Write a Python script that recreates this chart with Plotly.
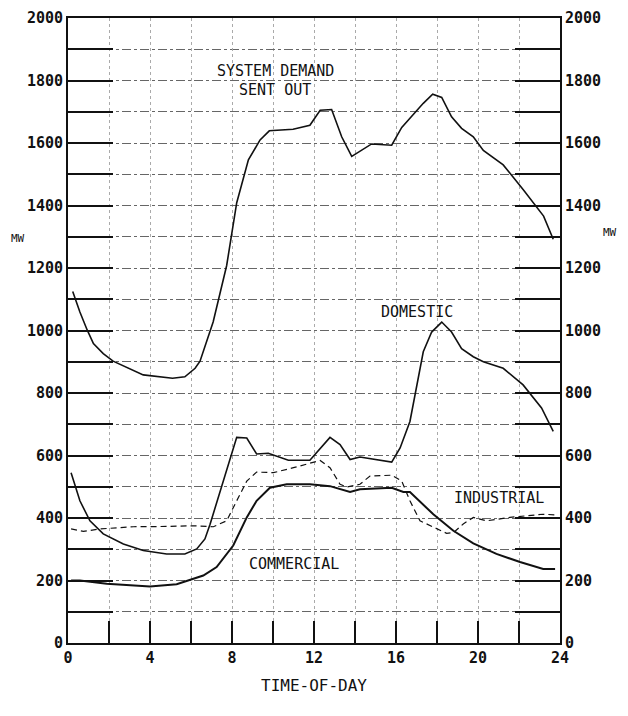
import plotly.graph_objects as go

# ---- data ----
sys_t = [0.23, 0.58, 0.94, 1.24, 1.72, 2.2, 3.67, 5.1, 5.7, 6.2, 6.44, 7.08, 7.74, 8.23, 8.8, 9.37, 9.82,
         10.98, 11.8, 12.3, 12.86, 13.35, 13.84, 14.81, 15.79, 16.28, 17.33, 17.79, 18.23, 18.71, 19.2,
         19.77, 20.26, 21.23, 22.2, 23.2, 23.67]
sys_mw = [1125, 1059, 1001, 958, 926, 902, 858, 847, 852, 879, 902, 1027, 1208, 1409, 1546, 1610, 1639,
          1644, 1657, 1705, 1707, 1620, 1557, 1597, 1593, 1650, 1727, 1756, 1746, 1684, 1647,
          1620, 1576, 1530, 1451, 1366, 1292]

dom_t = [0.15, 0.58, 1.07, 1.72, 2.7, 3.67, 4.81, 5.7, 6.28, 6.68, 6.93, 7.74, 8.23, 8.72, 9.2, 9.77,
         10.75, 11.8, 12.3, 12.78, 13.27, 13.76, 14.24, 15.79, 16.2, 16.68, 17.33, 17.74, 18.23, 18.71,
         19.2, 19.77, 20.26, 21.23, 22.2, 23.1, 23.67]
dom_mw = [545, 455, 391, 349, 317, 296, 285, 285, 301, 333, 380, 550, 658, 656, 605, 607,
          585, 585, 624, 658, 635, 587, 595, 579, 624, 709, 932, 995, 1027, 995,
          942, 916, 900, 879, 826, 752, 677]

ind_t = [0.15, 0.75, 1.56, 3.19, 4.81, 6.11, 7.09, 7.74, 8.23, 8.72, 9.2, 10.02, 11.0, 11.8, 12.3, 12.78,
         13.27, 13.6, 14.24, 14.73, 15.79, 16.28, 16.68, 17.17, 17.82, 18.47, 18.8, 19.28, 19.77, 20.42,
         21.56, 22.54, 23.18, 23.76]
ind_mw = [365, 357, 365, 372, 373, 375, 372, 391, 455, 518, 547, 545, 561, 576, 584, 561,
          508, 499, 508, 534, 537, 518, 455, 391, 370, 351, 353, 381, 402, 391,
          402, 407, 412, 410]

com_t = [0.15, 0.58, 1.89, 4.0, 5.3, 6.6, 7.25, 8.06, 8.72, 9.2, 9.85, 10.67, 11.8, 12.78, 13.76, 14.24,
         15.79, 16.36, 16.68, 17.82, 18.8, 19.77, 20.9, 22.05, 23.18, 23.76]
com_mw = [200, 200, 190, 181, 188, 216, 243, 312, 402, 455, 497, 508, 508, 502, 483, 492,
          497, 483, 483, 412, 359, 319, 285, 259, 237, 237]

y_ticks = [0, 200, 400, 600, 800, 1000, 1200, 1400, 1600, 1800, 2000]
x_ticks = [0, 4, 8, 12, 16, 20, 24]

labels = [("SYSTEM DEMAND", 10.1, 1832), ("SENT OUT", 10.1, 1770), ("DOMESTIC", 17.0, 1059),
          ("INDUSTRIAL", 21.0, 464), ("COMMERCIAL", 11.0, 254)]

FONT = "DejaVu Sans Mono"
INK = "#111111"

fig = go.Figure()
fig.add_trace(go.Scatter(x=sys_t, y=sys_mw, mode="lines", line=dict(color=INK, width=1.6), showlegend=False))
fig.add_trace(go.Scatter(x=dom_t, y=dom_mw, mode="lines", line=dict(color=INK, width=1.6), showlegend=False))
fig.add_trace(go.Scatter(x=ind_t, y=ind_mw, mode="lines", line=dict(color=INK, width=1.2, dash="6px,4px"), showlegend=False))
fig.add_trace(go.Scatter(x=com_t, y=com_mw, mode="lines", line=dict(color=INK, width=2), showlegend=False))
# invisible trace for right axis
fig.add_trace(go.Scatter(x=[0], y=[0], yaxis="y2", mode="markers", marker=dict(opacity=0), showlegend=False, hoverinfo="skip"))

for txt, x, y in labels:
    fig.add_annotation(x=x, y=y, text=txt, showarrow=False, font=dict(family=FONT, size=15, color=INK))

fig.add_annotation(xref="paper", yref="paper", x=-0.1016, y=0.648, text="MW", showarrow=False,
                   font=dict(family=FONT, size=11, color=INK), xanchor="center")
fig.add_annotation(xref="paper", yref="paper", x=1.1016, y=0.657, text="MW", showarrow=False,
                   font=dict(family=FONT, size=11, color=INK), xanchor="center")

axis_common = dict(showline=True, linecolor=INK, linewidth=2, zeroline=False, automargin=False,
                   ticklabeloverflow="allow")
tf = dict(family=FONT, size=15, color=INK, weight="bold")

fig.update_layout(
    width=612, height=700,
    margin=dict(l=60, r=60, t=10, b=65),
    paper_bgcolor="white", plot_bgcolor="white",
    font=dict(family=FONT, size=14, color=INK),
    xaxis=dict(range=[0, 24], tickvals=x_ticks, ticktext=[str(v) for v in x_ticks],
               ticks="inside", ticklen=22, tickcolor=INK, tickwidth=1.5,
               showgrid=True, gridcolor="#aaaaaa", griddash="dot", gridwidth=1,
               minor=dict(dtick=2, ticks="inside", ticklen=22, tickcolor=INK, showgrid=True,
                          gridcolor="#aaaaaa", griddash="dot"),
               mirror=True, title=dict(text="TIME-OF-DAY", font=dict(family=FONT, size=16), standoff=14),
               tickfont=tf, **axis_common),
    yaxis=dict(range=[0, 2000], tickvals=y_ticks, ticktext=[str(v) for v in y_ticks],
               ticks="inside", ticklen=45, tickcolor=INK, tickwidth=1.5,
               showgrid=True, gridcolor="#666666", griddash="dashdot", gridwidth=1,
               minor=dict(dtick=100, ticks="inside", ticklen=45, tickcolor=INK, tickwidth=1.5, showgrid=True,
                          gridcolor="#666666", griddash="dashdot"),
               mirror=True, tickfont=tf, **axis_common),
    yaxis2=dict(range=[0, 2000], overlaying="y", side="right", tickvals=y_ticks,
                ticktext=[str(v) for v in y_ticks], ticks="inside", ticklen=45, tickcolor=INK, tickwidth=1.5,
                minor=dict(dtick=100, ticks="inside", ticklen=45, tickcolor=INK, tickwidth=1.5),
                showgrid=False, tickfont=tf, **axis_common),
)

fig.write_html("out.html")
